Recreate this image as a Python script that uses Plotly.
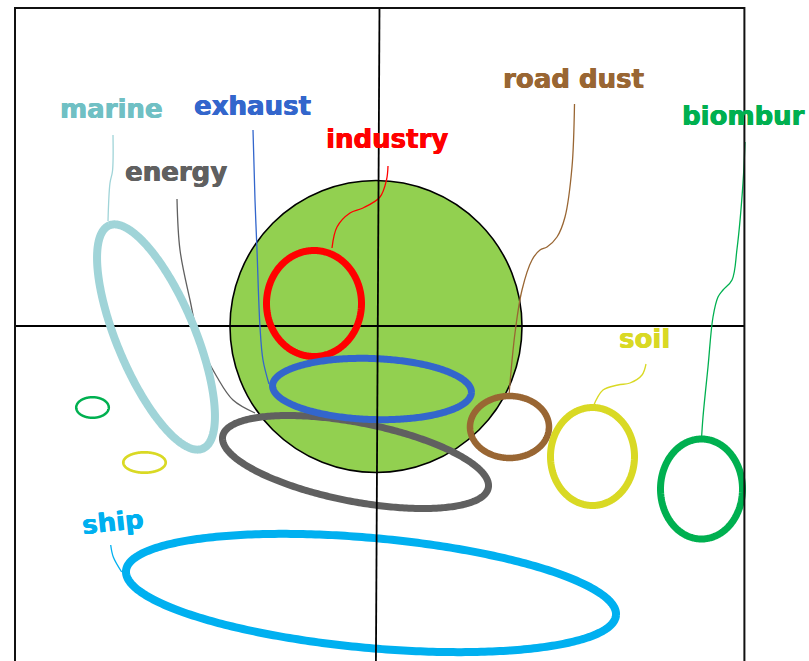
import numpy as np
import plotly.graph_objects as go

# ---- data: source profiles in score space (PC units) ----
sources = ["industry", "exhaust", "energy", "marine", "road dust", "soil", "biombur", "ship"]
center_x = [-0.64, -0.06, -0.225, -2.22, 1.315, 2.145, 3.235, -0.07]
center_y = [0.225, -0.63, -1.36, -0.11, -1.01, -1.305, -1.63, -2.67]
semi_a = [0.475, 0.995, 1.353, 1.21, 0.395, 0.42, 0.41, 2.46]
semi_b = [0.53, 0.305, 0.394, 0.39, 0.31, 0.49, 0.50, 0.55]
tilt_deg = [0, -2, -11, 112.7, 0, 0, 0, -5.2]

# unlabeled minor profiles
minor_x = [-2.855, -2.335]
minor_y = [-0.815, -1.365]
minor_a = [0.163, 0.212]
minor_b = [0.103, 0.102]

# overall PM cloud
cloud_center = [-0.02, -0.005]
cloud_radius = 1.46

# ---- styles ----
ring_color = {"industry": "#ff0000", "exhaust": "#3366cc", "energy": "#606060",
              "marine": "#a0d4d8", "road dust": "#996633", "soil": "#d9d924",
              "biombur": "#00b050", "ship": "#00b0f0"}
text_color = dict(ring_color, marine="#70c0c4")
ring_width = {"industry": 7, "exhaust": 7, "energy": 7, "marine": 8,
              "road dust": 6.5, "soil": 7, "biombur": 7, "ship": 8}
minor_color = ["#00b050", "#d9d924"]
minor_width = [2.5, 2.7]

# label placement (data units) and leader paths
label_pos = {"marine": (-3.20, 2.168, 0), "exhaust": (-1.86, 2.201, 0),
             "industry": (-0.545, 1.871, 0), "energy": (-2.55, 1.544, 0),
             "road dust": (1.23, 2.468, 0), "biombur": (3.017, 2.101, 0),
             "soil": (2.39, -0.132, 0)}
ship_label = (-2.65, -1.96, -6)
leaders = {
    "marine": [(-2.65, 1.91), (-2.655, 1.55), (-2.68, 1.43), (-2.70, 1.05)],
    "energy": [(-2.01, 1.27), (-1.98, 0.76), (-1.88, 0.26), (-1.78, -0.17),
               (-1.61, -0.51), (-1.45, -0.74), (-1.23, -0.87)],
    "exhaust": [(-1.25, 1.96), (-1.23, 1.26), (-1.21, 0.76), (-1.18, -0.01),
                (-1.15, -0.34), (-1.09, -0.58)],
    "industry": [(0.10, 1.60), (0.085, 1.46), (0.02, 1.29), (-0.15, 1.18),
                 (-0.28, 1.13), (-0.41, 0.99), (-0.46, 0.78)],
    "road dust": [(1.965, 2.22), (1.94, 1.59), (1.87, 1.09), (1.79, 0.89),
                  (1.69, 0.79), (1.62, 0.76), (1.54, 0.66), (1.44, 0.36),
                  (1.37, -0.07), (1.32, -0.57), (1.31, -0.70)],
    "biombur": [(3.67, 1.84), (3.65, 1.43), (3.59, 0.77), (3.54, 0.46),
                (3.45, 0.36), (3.40, 0.29), (3.35, 0.09), (3.30, -0.41),
                (3.25, -0.91), (3.235, -1.13)],
    "soil": [(2.68, -0.38), (2.64, -0.49), (2.52, -0.57), (2.40, -0.59),
             (2.25, -0.64), (2.15, -0.81)],
    "ship": [(-2.673, -2.19), (-2.647, -2.31), (-2.563, -2.46)],
}


def ellipse(cx, cy, a, b, deg, n=360):
    t = np.linspace(0, 2 * np.pi, n)
    th = np.deg2rad(deg)
    x = cx + a * np.cos(t) * np.cos(th) - b * np.sin(t) * np.sin(th)
    y = cy + a * np.cos(t) * np.sin(th) + b * np.sin(t) * np.cos(th)
    return x, y


fig = go.Figure()

# leader lines
for name, pts in leaders.items():
    fig.add_trace(go.Scatter(x=[p[0] for p in pts], y=[p[1] for p in pts], mode="lines",
                             line=dict(color=ring_color[name], width=1.3, shape="spline",
                                       simplify=False),
                             hoverinfo="skip", showlegend=False))

order = ["marine", "energy", "industry", "exhaust", "road dust", "soil", "biombur", "ship"]
for name in order:
    i = sources.index(name)
    x, y = ellipse(center_x[i], center_y[i], semi_a[i], semi_b[i], tilt_deg[i])
    fig.add_trace(go.Scatter(x=x, y=y, mode="lines",
                             line=dict(color=ring_color[name], width=ring_width[name],
                                       simplify=False),
                             hoverinfo="skip", showlegend=False, name=name))

for i in range(len(minor_x)):
    x, y = ellipse(minor_x[i], minor_y[i], minor_a[i], minor_b[i], 0)
    fig.add_trace(go.Scatter(x=x, y=y, mode="lines",
                             line=dict(color=minor_color[i], width=minor_width[i],
                                       simplify=False),
                             hoverinfo="skip", showlegend=False))

X0, X1, YT, YB = -3.63, 3.664, 3.18, -3.6
shapes = [
    dict(type="circle", xref="x", yref="y", layer="below",
         x0=cloud_center[0] - cloud_radius, x1=cloud_center[0] + cloud_radius,
         y0=cloud_center[1] - cloud_radius, y1=cloud_center[1] + cloud_radius,
         fillcolor="#92d050", line=dict(color="black", width=1.6)),
    dict(type="line", xref="x", yref="y", layer="below", x0=X0, x1=X1, y0=0, y1=0,
         line=dict(color="black", width=1.8)),
    dict(type="line", xref="x", yref="y", layer="above", x0=0.015, x1=-0.022, y0=YT, y1=YB,
         line=dict(color="black", width=1.8)),
    dict(type="rect", xref="x", yref="y", layer="above", x0=X0, x1=X1, y0=YB, y1=YT,
         line=dict(color="#111111", width=2), fillcolor="rgba(0,0,0,0)"),
]


def lab_font(c):
    return dict(family="DejaVu Sans", size=26, color=c, weight="bold",
                shadow="0.5px 0 0 %s, -0.3px 0 0 %s" % (c, c))


annotations = []
for name, (lx, ly, ang) in label_pos.items():
    annotations.append(dict(x=lx, y=ly, xref="x", yref="y", text=name,
                            showarrow=False, xanchor="left", yanchor="middle",
                            font=lab_font(text_color[name])))
annotations.append(dict(x=ship_label[0], y=ship_label[1], xref="x", yref="y", text="ship",
                        showarrow=False, xanchor="center", yanchor="middle", textangle=ship_label[2],
                        font=lab_font(text_color["ship"])))

fig.update_layout(
    width=809, height=661, margin=dict(l=0, r=0, t=0, b=0),
    paper_bgcolor="white", plot_bgcolor="white",
    xaxis=dict(range=[-3.78, 4.31], visible=False, fixedrange=True),
    yaxis=dict(range=[-3.35, 3.26], visible=False, fixedrange=True),
    shapes=shapes, annotations=annotations, showlegend=False,
)

fig.write_html("out.html")
